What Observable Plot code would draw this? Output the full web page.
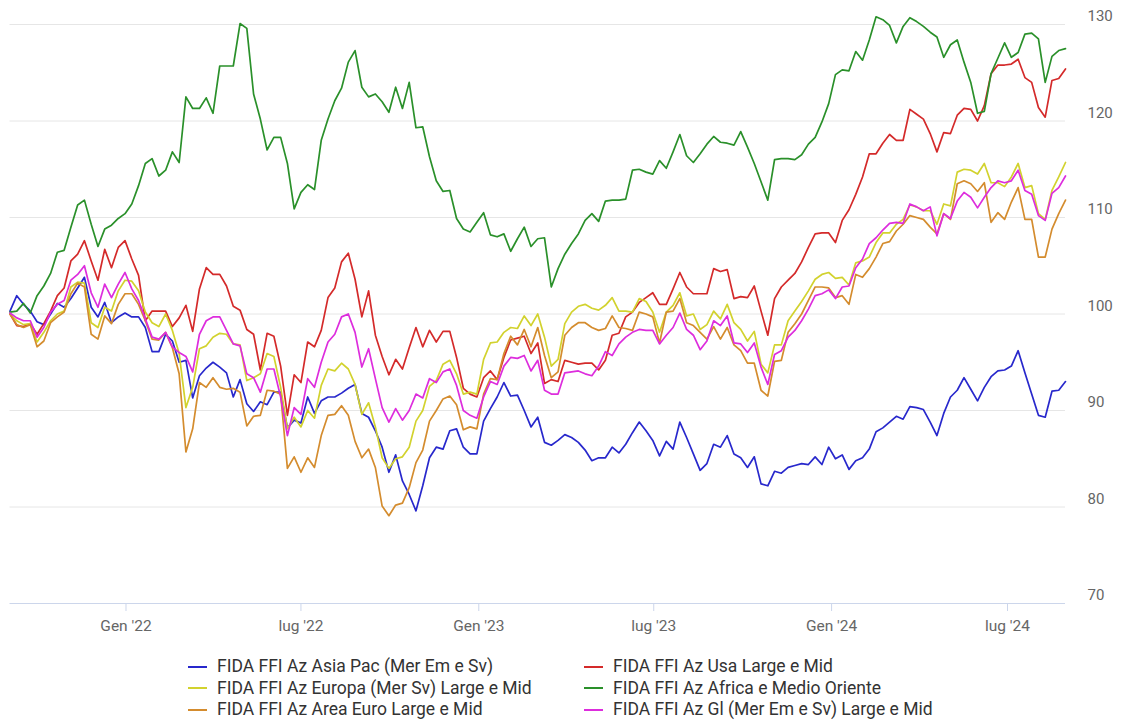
<!DOCTYPE html>
<html>
<head>
<meta charset="utf-8">
<script src="https://cdn.jsdelivr.net/npm/d3@7"></script>
<script src="https://cdn.jsdelivr.net/npm/@observablehq/plot@0.6"></script>
<style>
  html, body { margin: 0; padding: 0; background: #fff; }
  body { width: 1131px; height: 720px; position: relative; font-family: Roboto, "Noto Sans", sans-serif; overflow: hidden; }
  #chart { position: absolute; left: 0; top: 0; }
  #legend { position: absolute; left: 0; top: 656px; width: 1131px; }
  .item { position: absolute; display: flex; align-items: center; font-size: 17.5px; line-height: 21px; color: #333; white-space: nowrap; }
  .sw { width: 19px; height: 2px; margin-right: 10px; }
</style>
</head>
<body>
<div id="chart"></div>
<div id="legend"></div>
<script>
// ---- data ----
const seriesNames = [
  "FIDA FFI Az Asia Pac (Mer Em e Sv)",
  "FIDA FFI Az Usa Large e Mid",
  "FIDA FFI Az Europa (Mer Sv) Large e Mid",
  "FIDA FFI Az Africa e Medio Oriente",
  "FIDA FFI Az Area Euro Large e Mid",
  "FIDA FFI Az Gl (Mer Em e Sv) Large e Mid"
];
const seriesColors = ["#2828cc", "#d42a2a", "#d2d22e", "#2a902a", "#d48c2e", "#dd2ddd"];

const startDate = "2021-09-03"; // weekly observations
const tickDates = ["2022-01-01", "2022-07-01", "2023-01-01", "2023-07-01", "2024-01-01", "2024-07-01"];
const tickLabels = ["Gen '22", "lug '22", "Gen '23", "lug '23", "Gen '24", "lug '24"];
const yTicks = [70, 80, 90, 100, 110, 120, 130];

const asiaPac = [100.3,101.9,101.0,100.3,99.2,98.9,100.0,101.1,100.7,101.6,102.7,103.8,100.7,99.7,101.2,99.1,99.7,100.1,99.7,99.7,98.6,96.1,96.1,97.9,97.2,95.0,95.2,91.3,93.6,94.4,95.0,94.5,93.9,91.4,93.2,90.7,89.9,90.9,90.6,91.9,91.9,88.2,89.0,88.7,91.4,89.7,91.0,91.4,91.4,91.8,92.3,92.7,89.7,89.3,87.9,86.2,83.6,85.4,82.7,81.3,79.6,82.2,85.1,86.2,86.0,87.9,88.1,86.2,85.5,85.5,88.9,90.2,91.4,92.9,91.5,91.6,90.0,88.3,89.3,86.7,86.4,86.9,87.5,87.2,86.7,85.9,84.8,85.1,85.1,86.2,85.6,86.5,87.7,88.8,87.9,86.9,85.3,86.8,86.0,88.8,87.2,85.5,83.8,84.5,86.5,86.2,87.4,85.5,85.1,84.1,85.2,82.4,82.2,83.7,83.5,84.1,84.3,84.5,84.4,85.2,84.4,86.2,85.0,85.4,83.9,84.8,85.1,86.0,87.8,88.2,88.8,89.4,89.1,90.4,90.3,90.1,88.8,87.4,89.7,91.4,92.1,93.4,92.2,91.0,92.4,93.5,94.1,94.2,94.6,96.2,93.9,91.7,89.5,89.3,92.0,92.1,93.0];
const usa = [100.0,98.8,98.7,99.0,97.9,99.0,100.3,101.9,102.7,105.5,106.2,107.6,105.5,103.5,106.7,104.8,106.9,107.6,105.7,104.0,99.3,100.3,100.3,100.3,98.7,99.6,100.9,98.2,102.6,104.8,104.1,104.1,102.9,100.8,100.4,98.4,97.9,94.2,98.0,97.7,94.6,89.5,93.7,92.9,97.1,96.6,98.3,101.7,102.7,105.4,106.3,103.6,99.7,102.4,97.8,95.6,93.7,95.3,94.3,96.5,98.6,96.6,98.3,97.1,98.2,98.2,95.5,92.3,91.7,91.4,93.4,94.1,93.2,95.5,97.3,97.5,97.7,95.9,97.0,92.8,93.2,93.0,95.2,95.0,94.8,94.9,94.9,94.2,95.2,97.8,98.0,99.7,100.2,101.2,101.7,102.2,101.0,101.0,102.6,104.3,102.8,102.1,102.1,102.1,104.7,104.4,104.6,101.6,101.8,101.7,102.9,100.3,97.8,101.6,102.8,103.5,104.2,105.4,106.9,108.3,108.4,108.4,107.4,109.7,110.8,112.4,114.2,116.6,116.6,117.7,118.6,118.0,118.0,121.2,120.7,120.2,118.7,116.8,118.8,118.7,120.6,121.3,121.2,120.0,121.6,124.9,125.8,125.8,125.9,126.4,124.5,124.0,121.4,120.4,124.2,124.4,125.4];
const europa = [100.0,99.3,98.9,99.0,97.1,98.1,99.3,100.0,100.3,102.8,103.3,103.2,99.1,98.6,100.7,100.3,102.4,103.5,103.4,102.4,100.2,99.1,98.7,100.0,98.3,95.9,90.3,92.4,96.4,96.7,97.6,98.0,97.9,96.9,96.8,93.1,93.4,93.8,95.9,95.6,92.4,88.1,89.3,88.3,90.0,89.2,92.6,94.3,94.1,94.9,94.3,92.7,89.6,90.8,88.3,85.1,84.0,85.0,85.2,86.2,88.9,90.0,92.5,93.1,94.8,95.2,93.8,91.7,91.9,91.7,95.3,97.0,97.1,98.1,98.6,98.5,99.8,98.8,100.0,97.6,94.6,95.3,99.0,100.2,100.8,101.0,100.6,100.4,100.9,101.7,100.3,100.3,100.2,101.6,101.3,100.2,98.1,100.2,100.9,102.2,99.8,100.0,98.4,98.9,100.3,99.5,101.0,99.1,98.4,97.2,98.2,94.8,93.9,96.8,96.8,99.3,100.3,101.3,102.4,103.6,104.1,104.3,103.7,103.8,103.0,105.3,105.5,105.9,107.4,108.4,108.4,109.3,109.8,111.3,111.1,110.7,110.7,109.3,111.4,111.2,114.7,115.0,114.9,114.5,115.6,113.6,113.6,113.2,114.2,115.6,113.1,113.3,110.4,109.8,112.8,114.2,115.7];
const africa = [100.2,100.3,101.1,100.1,101.9,102.9,104.2,106.4,106.6,109.0,111.3,111.8,109.3,107.0,108.8,109.2,109.9,110.4,111.4,113.3,115.6,116.1,114.3,114.9,116.8,115.7,122.5,121.3,121.3,122.4,120.8,125.7,125.7,125.7,130.1,129.6,122.8,120.2,117.0,118.3,118.3,115.6,110.9,112.6,113.4,112.9,118.0,120.2,122.1,123.4,126.1,127.3,123.5,122.5,122.8,122.0,120.9,123.5,121.3,124.0,119.3,119.4,116.3,113.8,112.7,112.8,109.9,108.8,108.5,109.5,110.5,108.2,108.0,108.3,106.5,107.8,109.0,107.0,107.8,107.9,102.8,104.7,106.2,107.3,108.3,109.7,110.4,109.6,111.7,111.8,111.8,111.9,114.9,115.0,114.7,114.5,115.9,115.1,116.8,118.6,116.4,115.7,116.6,117.6,118.4,117.8,117.7,117.5,118.9,117.3,115.6,113.7,111.8,116.0,116.1,116.1,116.0,116.5,117.6,118.3,119.9,121.8,124.8,125.3,125.2,127.2,126.3,128.4,130.8,130.5,129.9,128.1,129.8,130.7,130.3,129.8,129.2,128.7,126.6,127.9,128.4,126.1,124.0,120.8,121.0,124.9,126.5,128.1,126.6,127.1,129.0,129.1,128.5,124.0,126.7,127.3,127.5];
const areaEuro = [100.0,98.9,98.6,98.9,96.6,97.2,99.1,99.7,100.2,102.1,103.2,102.8,97.9,97.4,99.8,99.0,101.0,102.1,102.1,101.0,99.3,97.4,97.3,98.1,96.5,93.8,85.7,88.1,92.9,92.4,93.4,92.4,92.2,92.3,91.9,88.4,89.4,89.5,92.1,92.0,91.7,84.0,85.2,83.6,85.1,84.1,87.4,89.5,89.6,90.5,89.5,86.8,85.1,86.0,84.1,80.1,79.1,80.2,80.4,82.0,84.6,85.9,88.9,90.0,91.2,91.5,90.6,88.0,88.3,88.1,91.7,93.3,93.2,95.9,97.7,96.8,98.4,96.6,98.6,95.7,93.4,94.0,97.8,98.6,99.1,99.1,98.6,98.3,98.5,99.8,98.6,98.5,98.3,100.2,100.0,99.7,97.0,100.2,100.3,101.6,99.1,98.8,98.1,97.4,98.7,97.4,98.6,96.8,96.2,94.9,94.9,92.1,91.5,95.1,95.2,98.1,99.0,100.0,101.4,102.8,102.8,102.7,101.7,101.9,101.0,104.1,103.8,104.7,105.9,107.3,107.5,108.6,109.3,110.2,110.0,109.8,109.0,108.3,110.4,109.8,113.5,113.8,113.5,112.7,113.6,109.5,110.5,109.8,111.6,113.1,109.8,109.8,105.9,105.9,108.8,110.4,111.8];
const globale = [100.1,99.6,99.3,99.3,97.6,98.6,100.2,101.0,101.4,103.5,104.1,105.0,102.2,100.7,103.1,101.7,103.1,104.3,102.6,101.4,99.5,97.6,97.4,98.1,96.6,96.0,95.6,94.0,97.9,99.3,99.7,99.7,98.3,96.9,96.7,93.8,93.4,91.9,94.3,94.3,91.4,87.4,90.3,89.6,93.3,92.4,95.0,97.1,97.9,99.7,100.0,98.1,94.5,96.4,93.3,90.3,88.8,90.2,89.0,90.0,91.7,91.3,93.3,92.9,94.0,94.3,92.6,90.0,89.5,89.2,91.4,93.0,92.7,94.6,95.5,95.4,95.7,94.1,95.2,92.1,91.7,91.7,93.9,94.0,94.1,93.8,93.6,94.6,96.1,95.7,96.9,97.6,98.1,98.4,98.3,98.3,96.9,97.8,98.6,100.1,98.4,97.8,96.3,97.2,99.3,98.8,99.8,97.0,96.9,96.0,97.0,94.5,92.7,95.8,96.2,97.6,98.3,99.3,100.5,101.9,102.1,102.5,101.6,102.8,102.9,104.8,105.7,107.3,107.9,108.7,109.4,109.5,109.4,111.4,111.1,110.7,111.1,108.1,110.4,109.9,111.7,112.6,112.1,111.0,112.1,113.1,113.8,113.6,113.8,114.9,112.8,112.4,110.2,109.7,112.5,113.1,114.3];

const seriesValues = [asiaPac, usa, europa, africa, areaEuro, globale];

// ---- build table ----
const t0 = new Date(startDate + "T00:00:00Z");
const dates = asiaPac.map((_, i) => new Date(Date.UTC(t0.getUTCFullYear(), t0.getUTCMonth(), t0.getUTCDate() + 7 * i)));
const rows = [];
seriesNames.forEach((name, s) => {
  seriesValues[s].forEach((v, i) => rows.push({series: name, date: dates[i], value: v}));
});
const ticks = tickDates.map(d => new Date(d + "T00:00:00Z"));
const labelOf = new Map(ticks.map((d, i) => [+d, tickLabels[i]]));

const chart = Plot.plot({
  width: 1131,
  height: 645,
  marginLeft: 9.5,
  marginRight: 66,
  marginTop: 24,
  marginBottom: 42,
  style: {fontFamily: "Roboto, 'Noto Sans', sans-serif", background: "#fff", overflow: "visible"},
  x: {type: "utc", domain: [dates[0], dates[dates.length - 1]]},
  y: {domain: [70, 130]},
  color: {domain: seriesNames, range: seriesColors},
  marks: [
    Plot.gridY(yTicks.filter(d => d > 70), {stroke: "#e6e6e6", strokeOpacity: 1, strokeWidth: 1}),
    Plot.ruleY([70], {stroke: "#ccd6eb", strokeWidth: 1}),
    Plot.axisY(yTicks, {anchor: "right", tickSize: 0, tickPadding: 22, dy: -8, fontSize: 15, fill: "#666", label: null}),
    Plot.axisX(ticks, {tickSize: 8, tickPadding: 8, stroke: "#ccd6eb", fill: "#666", fontSize: 15.5, tickFormat: d => labelOf.get(+d), label: null}),
    Plot.line(rows, {x: "date", y: "value", z: "series", stroke: "series", strokeWidth: 1.7, curve: "linear"})
  ]
});
document.getElementById("chart").appendChild(chart);

// ---- legend ----
const legend = document.getElementById("legend");
const colLeft = [188, 584];
seriesNames.forEach((name, i) => {
  const item = document.createElement("div");
  item.className = "item";
  item.style.left = colLeft[i % 2] + "px";
  item.style.top = (Math.floor(i / 2) * 21.5) + "px";
  const sw = document.createElement("span");
  sw.className = "sw";
  sw.style.background = seriesColors[i];
  const tx = document.createElement("span");
  tx.textContent = name;
  item.appendChild(sw);
  item.appendChild(tx);
  legend.appendChild(item);
});
</script>
</body>
</html>
